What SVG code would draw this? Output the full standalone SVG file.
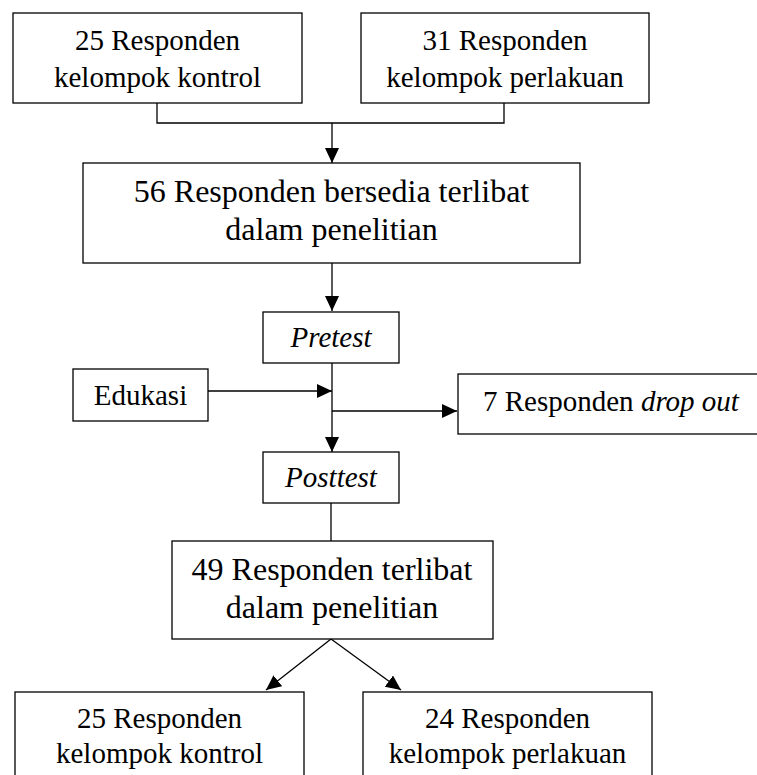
<svg xmlns="http://www.w3.org/2000/svg" width="757" height="775" viewBox="0 0 757 775">
<defs>
<style>
.box{fill:#fff;stroke:#000;stroke-width:1.3}
.t{font-family:"Liberation Serif","Times New Roman",serif;font-size:29px;fill:#000;text-anchor:middle}
.b{font-size:32px}
.i{font-style:italic}
.c{fill:none;stroke:#000;stroke-width:1.3}
</style>
<marker id="ah" markerUnits="userSpaceOnUse" markerWidth="16" markerHeight="16" refX="15" refY="7" orient="auto">
<path d="M0,0 L15,7 L0,14 Z" fill="#000"/>
</marker>
</defs>
<rect width="757" height="775" fill="#fff"/>
<g id="connectors">
<path class="c" d="M157,103 V123 H504 V103"/>
<line class="c" x1="332" y1="123" x2="332" y2="163" marker-end="url(#ah)"/>
<line class="c" x1="332" y1="263" x2="332" y2="311" marker-end="url(#ah)"/>
<line class="c" x1="332" y1="363" x2="332" y2="452" marker-end="url(#ah)"/>
<line class="c" x1="208" y1="391" x2="332" y2="391" marker-end="url(#ah)"/>
<line class="c" x1="332" y1="411" x2="457" y2="411" marker-end="url(#ah)"/>
<line class="c" x1="331" y1="503" x2="331" y2="541"/>
<line class="c" x1="331" y1="639" x2="266" y2="690" marker-end="url(#ah)"/>
<line class="c" x1="331" y1="639" x2="401" y2="690" marker-end="url(#ah)"/>
</g>
<g id="n1">
<rect class="box" x="13" y="13" width="289" height="90"/>
<text class="t" x="157.5" y="50">25 Responden</text>
<text class="t" x="157.5" y="87">kelompok kontrol</text>
</g>
<g id="n2">
<rect class="box" x="361" y="13" width="288" height="90"/>
<text class="t" x="505" y="50">31 Responden</text>
<text class="t" x="505" y="87">kelompok perlakuan</text>
</g>
<g id="n3">
<rect class="box" x="83" y="163" width="497" height="100"/>
<text class="t b" x="331.5" y="202">56 Responden bersedia terlibat</text>
<text class="t b" x="331.5" y="240">dalam penelitian</text>
</g>
<g id="pretest">
<rect class="box" x="263" y="312" width="136" height="51"/>
<text class="t i" x="331" y="347">Pretest</text>
</g>
<g id="edukasi">
<rect class="box" x="73" y="369" width="135" height="52"/>
<text class="t" x="140.5" y="405">Edukasi</text>
</g>
<g id="dropout">
<rect class="box" x="458" y="374" width="310" height="60"/>
<text class="t" x="483" y="411" style="text-anchor:start">7 Responden <tspan class="i">drop out</tspan></text>
</g>
<g id="posttest">
<rect class="box" x="263" y="452" width="136" height="51"/>
<text class="t i" x="331" y="487">Posttest</text>
</g>
<g id="n4">
<rect class="box" x="172" y="541" width="321" height="98"/>
<text class="t b" x="332" y="580">49 Responden terlibat</text>
<text class="t b" x="332" y="618">dalam penelitian</text>
</g>
<g id="n5">
<rect class="box" x="15" y="692" width="289" height="100"/>
<text class="t" x="159.5" y="728">25 Responden</text>
<text class="t" x="159.5" y="763">kelompok kontrol</text>
</g>
<g id="n6">
<rect class="box" x="363" y="692" width="289" height="100"/>
<text class="t" x="507.5" y="728">24 Responden</text>
<text class="t" x="507.5" y="763">kelompok perlakuan</text>
</g>
</svg>
